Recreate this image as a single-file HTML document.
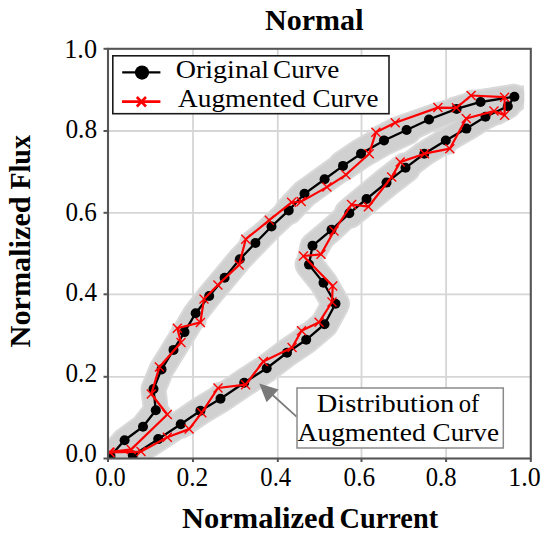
<!DOCTYPE html>
<html><head><meta charset="utf-8"><style>
html,body{margin:0;padding:0;background:#fff;}
svg{display:block;}
text{font-family:"Liberation Serif",serif;fill:#000;white-space:pre;}
</style></head><body>
<svg width="550" height="537" viewBox="0 0 550 537">
<defs><clipPath id="pc"><rect x="108.0" y="48.8" width="422.8" height="409.7"/></clipPath>
<clipPath id="bc"><rect x="108.0" y="48.8" width="416.2" height="409.7"/></clipPath></defs>
<rect width="550" height="537" fill="#fff"/>
<g stroke="#d6d6d6" stroke-width="1.8"><line x1="193.0" y1="48.8" x2="193.0" y2="458.5"/><line x1="108.0" y1="376.8" x2="530.8" y2="376.8"/><line x1="277.8" y1="48.8" x2="277.8" y2="458.5"/><line x1="108.0" y1="294.3" x2="530.8" y2="294.3"/><line x1="361.5" y1="48.8" x2="361.5" y2="458.5"/><line x1="108.0" y1="212.8" x2="530.8" y2="212.8"/><line x1="446.1" y1="48.8" x2="446.1" y2="458.5"/><line x1="108.0" y1="131.0" x2="530.8" y2="131.0"/></g>
<g clip-path="url(#bc)">
<path d="M496,87L512,85.4L524.2,85.4L524.2,108.5L512,118.5L500,125Z" fill="#d9d9d9"/>
<polyline points="110.5,456.0 124.6,440.2 143.0,426.7 155.8,410.3 153.5,389.0 161.5,369.4 173.5,349.9 184.5,332.1 195.7,313.2 209.2,296.0 224.6,277.7 239.8,259.3 255.4,243.0 271.5,226.5 288.7,210.4 304.5,193.8 324.6,179.3 343.0,165.9 361.0,153.7 384.0,140.4 406.6,130.0 429.0,119.5 456.6,108.9 480.6,102.0 514.4,96.7 507.8,106.3 485.5,116.8 466.4,128.6 445.8,140.5 424.3,153.8 405.5,167.8 386.5,182.6 366.5,199.0 349.3,213.3 331.5,229.8 312.5,245.8 309.0,264.6 323.5,282.8 335.5,303.8 324.5,324.2 306.2,339.8 287.0,352.8 266.7,368.2 244.2,382.7 220.5,398.8 200.4,410.8 180.7,424.3 158.2,439.1 132.8,455.5" fill="none" stroke="#d9d9d9" stroke-width="26.0" stroke-linejoin="round" stroke-linecap="round"/>
<polyline points="343.0,165.9 361.0,153.7 384.0,140.4 406.6,130.0" fill="none" stroke="#d9d9d9" stroke-width="31.0" stroke-linejoin="round" stroke-linecap="round"/>
<polyline points="405.5,167.8 386.5,182.6 366.5,199.0 349.3,213.3" fill="none" stroke="#d9d9d9" stroke-width="31.0" stroke-linejoin="round" stroke-linecap="round"/>
<polyline points="309.0,264.6 323.5,282.8 335.5,303.8 324.5,324.2 306.2,339.8 287.0,352.8 266.7,368.2 244.2,382.7 220.5,398.8 200.4,410.8 180.7,424.3" fill="none" stroke="#d9d9d9" stroke-width="29.0" stroke-linejoin="round" stroke-linecap="round"/>
<polyline points="288.7,210.4 304.5,193.8 324.6,179.3 343.0,165.9" fill="none" stroke="#d9d9d9" stroke-width="29.0" stroke-linejoin="round" stroke-linecap="round"/>
<polyline points="109.5,452.0 131.2,449.4 167.3,414.5 151.3,394.0 159.4,367.1 181.0,342.5 177.3,328.3 200.4,322.4 204.0,299.0 217.9,285.0 239.1,264.9 245.8,239.2 269.3,220.2 291.6,202.3 301.2,201.6 326.9,187.1 345.9,174.8 369.2,153.7 375.9,132.3 395.2,122.7 437.9,107.6 456.4,107.8 471.1,95.5 504.6,97.2 504.6,115.2 494.0,111.1 466.2,118.5 449.8,148.7 424.5,153.7 400.2,162.1 391.7,177.0 368.4,206.7 351.6,204.5 334.0,231.0 321.0,254.3 303.4,256.0 332.7,286.1 332.0,302.0 319.1,322.3 301.5,330.7 292.1,347.5 263.3,361.5 245.6,384.7 218.0,388.0 201.8,412.7 189.1,429.1 167.3,437.3 141.0,451.6 110.0,452.5" fill="none" stroke="#d9d9d9" stroke-width="12.0" stroke-linejoin="round" stroke-linecap="round"/>
<path d="M498,89.5L512,88L521.7,88L521.7,107L511,115.5L500,121.5Z" fill="#d0d0d0"/>
<polyline points="110.5,456.0 124.6,440.2 143.0,426.7 155.8,410.3 153.5,389.0 161.5,369.4 173.5,349.9 184.5,332.1 195.7,313.2 209.2,296.0 224.6,277.7 239.8,259.3 255.4,243.0 271.5,226.5 288.7,210.4 304.5,193.8 324.6,179.3 343.0,165.9 361.0,153.7 384.0,140.4 406.6,130.0 429.0,119.5 456.6,108.9 480.6,102.0 514.4,96.7 507.8,106.3 485.5,116.8 466.4,128.6 445.8,140.5 424.3,153.8 405.5,167.8 386.5,182.6 366.5,199.0 349.3,213.3 331.5,229.8 312.5,245.8 309.0,264.6 323.5,282.8 335.5,303.8 324.5,324.2 306.2,339.8 287.0,352.8 266.7,368.2 244.2,382.7 220.5,398.8 200.4,410.8 180.7,424.3 158.2,439.1 132.8,455.5" fill="none" stroke="#d0d0d0" stroke-width="22.0" stroke-linejoin="round" stroke-linecap="round"/>
<polyline points="343.0,165.9 361.0,153.7 384.0,140.4 406.6,130.0" fill="none" stroke="#d0d0d0" stroke-width="27.0" stroke-linejoin="round" stroke-linecap="round"/>
<polyline points="405.5,167.8 386.5,182.6 366.5,199.0 349.3,213.3" fill="none" stroke="#d0d0d0" stroke-width="27.0" stroke-linejoin="round" stroke-linecap="round"/>
<polyline points="309.0,264.6 323.5,282.8 335.5,303.8 324.5,324.2 306.2,339.8 287.0,352.8 266.7,368.2 244.2,382.7 220.5,398.8 200.4,410.8 180.7,424.3" fill="none" stroke="#d0d0d0" stroke-width="25.0" stroke-linejoin="round" stroke-linecap="round"/>
<polyline points="288.7,210.4 304.5,193.8 324.6,179.3 343.0,165.9" fill="none" stroke="#d0d0d0" stroke-width="25.0" stroke-linejoin="round" stroke-linecap="round"/>
<polyline points="109.5,452.0 131.2,449.4 167.3,414.5 151.3,394.0 159.4,367.1 181.0,342.5 177.3,328.3 200.4,322.4 204.0,299.0 217.9,285.0 239.1,264.9 245.8,239.2 269.3,220.2 291.6,202.3 301.2,201.6 326.9,187.1 345.9,174.8 369.2,153.7 375.9,132.3 395.2,122.7 437.9,107.6 456.4,107.8 471.1,95.5 504.6,97.2 504.6,115.2 494.0,111.1 466.2,118.5 449.8,148.7 424.5,153.7 400.2,162.1 391.7,177.0 368.4,206.7 351.6,204.5 334.0,231.0 321.0,254.3 303.4,256.0 332.7,286.1 332.0,302.0 319.1,322.3 301.5,330.7 292.1,347.5 263.3,361.5 245.6,384.7 218.0,388.0 201.8,412.7 189.1,429.1 167.3,437.3 141.0,451.6 110.0,452.5" fill="none" stroke="#d0d0d0" stroke-width="8.0" stroke-linejoin="round" stroke-linecap="round"/>
</g>
<g clip-path="url(#pc)">
<polyline points="110.5,456.0 124.6,440.2 143.0,426.7 155.8,410.3 153.5,389.0 161.5,369.4 173.5,349.9 184.5,332.1 195.7,313.2 209.2,296.0 224.6,277.7 239.8,259.3 255.4,243.0 271.5,226.5 288.7,210.4 304.5,193.8 324.6,179.3 343.0,165.9 361.0,153.7 384.0,140.4 406.6,130.0 429.0,119.5 456.6,108.9 480.6,102.0 514.4,96.7 507.8,106.3 485.5,116.8 466.4,128.6 445.8,140.5 424.3,153.8 405.5,167.8 386.5,182.6 366.5,199.0 349.3,213.3 331.5,229.8 312.5,245.8 309.0,264.6 323.5,282.8 335.5,303.8 324.5,324.2 306.2,339.8 287.0,352.8 266.7,368.2 244.2,382.7 220.5,398.8 200.4,410.8 180.7,424.3 158.2,439.1 132.8,455.5" fill="none" stroke="#000" stroke-width="2.3"/>
<g fill="#000"><circle cx="110.5" cy="456.0" r="5"/><circle cx="124.6" cy="440.2" r="5"/><circle cx="143.0" cy="426.7" r="5"/><circle cx="155.8" cy="410.3" r="5"/><circle cx="153.5" cy="389.0" r="5"/><circle cx="161.5" cy="369.4" r="5"/><circle cx="173.5" cy="349.9" r="5"/><circle cx="184.5" cy="332.1" r="5"/><circle cx="195.7" cy="313.2" r="5"/><circle cx="209.2" cy="296.0" r="5"/><circle cx="224.6" cy="277.7" r="5"/><circle cx="239.8" cy="259.3" r="5"/><circle cx="255.4" cy="243.0" r="5"/><circle cx="271.5" cy="226.5" r="5"/><circle cx="288.7" cy="210.4" r="5"/><circle cx="304.5" cy="193.8" r="5"/><circle cx="324.6" cy="179.3" r="5"/><circle cx="343.0" cy="165.9" r="5"/><circle cx="361.0" cy="153.7" r="5"/><circle cx="384.0" cy="140.4" r="5"/><circle cx="406.6" cy="130.0" r="5"/><circle cx="429.0" cy="119.5" r="5"/><circle cx="456.6" cy="108.9" r="5"/><circle cx="480.6" cy="102.0" r="5"/><circle cx="514.4" cy="96.7" r="5"/><circle cx="507.8" cy="106.3" r="5"/><circle cx="485.5" cy="116.8" r="5"/><circle cx="466.4" cy="128.6" r="5"/><circle cx="445.8" cy="140.5" r="5"/><circle cx="424.3" cy="153.8" r="5"/><circle cx="405.5" cy="167.8" r="5"/><circle cx="386.5" cy="182.6" r="5"/><circle cx="366.5" cy="199.0" r="5"/><circle cx="349.3" cy="213.3" r="5"/><circle cx="331.5" cy="229.8" r="5"/><circle cx="312.5" cy="245.8" r="5"/><circle cx="309.0" cy="264.6" r="5"/><circle cx="323.5" cy="282.8" r="5"/><circle cx="335.5" cy="303.8" r="5"/><circle cx="324.5" cy="324.2" r="5"/><circle cx="306.2" cy="339.8" r="5"/><circle cx="287.0" cy="352.8" r="5"/><circle cx="266.7" cy="368.2" r="5"/><circle cx="244.2" cy="382.7" r="5"/><circle cx="220.5" cy="398.8" r="5"/><circle cx="200.4" cy="410.8" r="5"/><circle cx="180.7" cy="424.3" r="5"/><circle cx="158.2" cy="439.1" r="5"/><circle cx="132.8" cy="455.5" r="5"/></g>
<polyline points="109.5,452.0 131.2,449.4 167.3,414.5 151.3,394.0 159.4,367.1 181.0,342.5 177.3,328.3 200.4,322.4 204.0,299.0 217.9,285.0 239.1,264.9 245.8,239.2 269.3,220.2 291.6,202.3 301.2,201.6 326.9,187.1 345.9,174.8 369.2,153.7 375.9,132.3 395.2,122.7 437.9,107.6 456.4,107.8 471.1,95.5 504.6,97.2 504.6,115.2 494.0,111.1 466.2,118.5 449.8,148.7 424.5,153.7 400.2,162.1 391.7,177.0 368.4,206.7 351.6,204.5 334.0,231.0 321.0,254.3 303.4,256.0 332.7,286.1 332.0,302.0 319.1,322.3 301.5,330.7 292.1,347.5 263.3,361.5 245.6,384.7 218.0,388.0 201.8,412.7 189.1,429.1 167.3,437.3 141.0,451.6 110.0,452.5" fill="none" stroke="#ff0000" stroke-width="2.2" stroke-linejoin="round"/>
<g stroke="#ff0000" stroke-width="1.4" fill="none"><path d="M105.0,447.5L114.0,456.5M105.0,456.5L114.0,447.5"/><path d="M126.7,444.9L135.7,453.9M126.7,453.9L135.7,444.9"/><path d="M162.8,410.0L171.8,419.0M162.8,419.0L171.8,410.0"/><path d="M146.8,389.5L155.8,398.5M146.8,398.5L155.8,389.5"/><path d="M154.9,362.6L163.9,371.6M154.9,371.6L163.9,362.6"/><path d="M176.5,338.0L185.5,347.0M176.5,347.0L185.5,338.0"/><path d="M172.8,323.8L181.8,332.8M172.8,332.8L181.8,323.8"/><path d="M195.9,317.9L204.9,326.9M195.9,326.9L204.9,317.9"/><path d="M199.5,294.5L208.5,303.5M199.5,303.5L208.5,294.5"/><path d="M213.4,280.5L222.4,289.5M213.4,289.5L222.4,280.5"/><path d="M234.6,260.4L243.6,269.4M234.6,269.4L243.6,260.4"/><path d="M241.3,234.7L250.3,243.7M241.3,243.7L250.3,234.7"/><path d="M264.8,215.7L273.8,224.7M264.8,224.7L273.8,215.7"/><path d="M287.1,197.8L296.1,206.8M287.1,206.8L296.1,197.8"/><path d="M296.7,197.1L305.7,206.1M296.7,206.1L305.7,197.1"/><path d="M322.4,182.6L331.4,191.6M322.4,191.6L331.4,182.6"/><path d="M341.4,170.3L350.4,179.3M341.4,179.3L350.4,170.3"/><path d="M364.7,149.2L373.7,158.2M364.7,158.2L373.7,149.2"/><path d="M371.4,127.8L380.4,136.8M371.4,136.8L380.4,127.8"/><path d="M390.7,118.2L399.7,127.2M390.7,127.2L399.7,118.2"/><path d="M433.4,103.1L442.4,112.1M433.4,112.1L442.4,103.1"/><path d="M451.9,103.3L460.9,112.3M451.9,112.3L460.9,103.3"/><path d="M466.6,91.0L475.6,100.0M466.6,100.0L475.6,91.0"/><path d="M500.1,92.7L509.1,101.7M500.1,101.7L509.1,92.7"/><path d="M500.1,110.7L509.1,119.7M500.1,119.7L509.1,110.7"/><path d="M489.5,106.6L498.5,115.6M489.5,115.6L498.5,106.6"/><path d="M461.7,114.0L470.7,123.0M461.7,123.0L470.7,114.0"/><path d="M445.3,144.2L454.3,153.2M445.3,153.2L454.3,144.2"/><path d="M420.0,149.2L429.0,158.2M420.0,158.2L429.0,149.2"/><path d="M395.7,157.6L404.7,166.6M395.7,166.6L404.7,157.6"/><path d="M387.2,172.5L396.2,181.5M387.2,181.5L396.2,172.5"/><path d="M363.9,202.2L372.9,211.2M363.9,211.2L372.9,202.2"/><path d="M347.1,200.0L356.1,209.0M347.1,209.0L356.1,200.0"/><path d="M329.5,226.5L338.5,235.5M329.5,235.5L338.5,226.5"/><path d="M316.5,249.8L325.5,258.8M316.5,258.8L325.5,249.8"/><path d="M298.9,251.5L307.9,260.5M298.9,260.5L307.9,251.5"/><path d="M328.2,281.6L337.2,290.6M328.2,290.6L337.2,281.6"/><path d="M327.5,297.5L336.5,306.5M327.5,306.5L336.5,297.5"/><path d="M314.6,317.8L323.6,326.8M314.6,326.8L323.6,317.8"/><path d="M297.0,326.2L306.0,335.2M297.0,335.2L306.0,326.2"/><path d="M287.6,343.0L296.6,352.0M287.6,352.0L296.6,343.0"/><path d="M258.8,357.0L267.8,366.0M258.8,366.0L267.8,357.0"/><path d="M241.1,380.2L250.1,389.2M241.1,389.2L250.1,380.2"/><path d="M213.5,383.5L222.5,392.5M213.5,392.5L222.5,383.5"/><path d="M197.3,408.2L206.3,417.2M197.3,417.2L206.3,408.2"/><path d="M184.6,424.6L193.6,433.6M184.6,433.6L193.6,424.6"/><path d="M162.8,432.8L171.8,441.8M162.8,441.8L171.8,432.8"/><path d="M136.5,447.1L145.5,456.1M136.5,456.1L145.5,447.1"/><path d="M105.5,448.0L114.5,457.0M105.5,457.0L114.5,448.0"/></g>
</g>
<rect x="108.0" y="48.8" width="422.8" height="409.7" fill="none" stroke="#555" stroke-width="2.1"/>
<g stroke="#555" stroke-width="2"><line x1="103.5" y1="458.5" x2="108.0" y2="458.5"/><line x1="108.0" y1="458.5" x2="108.0" y2="462.0"/><line x1="103.5" y1="376.8" x2="108.0" y2="376.8"/><line x1="193.0" y1="458.5" x2="193.0" y2="462.0"/><line x1="103.5" y1="294.3" x2="108.0" y2="294.3"/><line x1="277.8" y1="458.5" x2="277.8" y2="462.0"/><line x1="103.5" y1="212.8" x2="108.0" y2="212.8"/><line x1="361.5" y1="458.5" x2="361.5" y2="462.0"/><line x1="103.5" y1="131.0" x2="108.0" y2="131.0"/><line x1="446.1" y1="458.5" x2="446.1" y2="462.0"/><line x1="103.5" y1="48.8" x2="108.0" y2="48.8"/><line x1="530.8" y1="458.5" x2="530.8" y2="462.0"/></g>
<!-- legend -->
<rect x="112.8" y="55.8" width="276.2" height="57.9" fill="#fff" stroke="#1a1a1a" stroke-width="1.6"/>
<line x1="122.2" y1="72.3" x2="160.4" y2="72.3" stroke="#000" stroke-width="2.2"/>
<circle cx="142" cy="72.6" r="7.1" fill="#000"/>
<line x1="122" y1="101.7" x2="160.4" y2="101.7" stroke="#ff0000" stroke-width="2.8"/>
<path d="M136.8,97L146,106.5M136.8,106.5L146,97" stroke="#ff0000" stroke-width="2.6"/>
<!-- annotation -->
<line x1="296.5" y1="416.7" x2="271" y2="393.5" stroke="#7a7a7a" stroke-width="1.7"/>
<path d="M259.2,383.6L266.6,402.2L278.6,389.4Z" fill="#7a7a7a"/>
<rect x="297" y="388" width="206.3" height="60" fill="#fff" stroke="#8a8a8a" stroke-width="1.5"/>
<text x="95.30" y="485.60" font-size="26.5" font-weight="normal" textLength="30.41" lengthAdjust="spacingAndGlyphs">0.0</text>
<text x="176.50" y="485.60" font-size="26.5" font-weight="normal" textLength="31.78" lengthAdjust="spacingAndGlyphs">0.2</text>
<text x="260.30" y="485.60" font-size="26.5" font-weight="normal" textLength="30.82" lengthAdjust="spacingAndGlyphs">0.4</text>
<text x="343.60" y="485.60" font-size="26.5" font-weight="normal" textLength="31.62" lengthAdjust="spacingAndGlyphs">0.6</text>
<text x="425.70" y="485.60" font-size="26.5" font-weight="normal" textLength="30.82" lengthAdjust="spacingAndGlyphs">0.8</text>
<text x="508.35" y="485.60" font-size="26.5" font-weight="normal" textLength="32.38" lengthAdjust="spacingAndGlyphs">1.0</text>
<text x="64.22" y="57.90" font-size="26.5" font-weight="normal" textLength="32.80" lengthAdjust="spacingAndGlyphs">1.0</text>
<text x="65.40" y="138.10" font-size="26.5" font-weight="normal" textLength="31.72" lengthAdjust="spacingAndGlyphs">0.8</text>
<text x="65.50" y="220.50" font-size="26.5" font-weight="normal" textLength="31.42" lengthAdjust="spacingAndGlyphs">0.6</text>
<text x="65.60" y="300.90" font-size="26.5" font-weight="normal" textLength="31.32" lengthAdjust="spacingAndGlyphs">0.4</text>
<text x="65.50" y="381.80" font-size="26.5" font-weight="normal" textLength="31.47" lengthAdjust="spacingAndGlyphs">0.2</text>
<text x="65.50" y="461.80" font-size="26.5" font-weight="normal" textLength="31.42" lengthAdjust="spacingAndGlyphs">0.0</text>
<text x="175.70" y="78.00" font-size="25.5" font-weight="normal" textLength="93.48" lengthAdjust="spacingAndGlyphs">Original</text>
<text x="273.04" y="78.00" font-size="25.5" font-weight="normal" textLength="66.31" lengthAdjust="spacingAndGlyphs">Curve</text>
<text x="178.00" y="106.90" font-size="25.5" font-weight="normal" textLength="127.58" lengthAdjust="spacingAndGlyphs">Augmented</text>
<text x="312.54" y="106.90" font-size="25.5" font-weight="normal" textLength="66.01" lengthAdjust="spacingAndGlyphs">Curve</text>
<text x="316.78" y="412.10" font-size="25.5" font-weight="normal" textLength="137.51" lengthAdjust="spacingAndGlyphs">Distribution</text>
<text x="458.73" y="412.10" font-size="25.5" font-weight="normal" textLength="20.54" lengthAdjust="spacingAndGlyphs">of</text>
<text x="297.60" y="441.10" font-size="25.5" font-weight="normal" textLength="128.08" lengthAdjust="spacingAndGlyphs">Augmented</text>
<text x="432.64" y="441.10" font-size="25.5" font-weight="normal" textLength="66.31" lengthAdjust="spacingAndGlyphs">Curve</text>
<text x="265.10" y="29.60" font-size="28.8" font-weight="bold" textLength="98.39" lengthAdjust="spacingAndGlyphs">Normal</text>
<text x="182.00" y="527.80" font-size="28.8" font-weight="bold" textLength="152.45" lengthAdjust="spacingAndGlyphs">Normalized</text>
<text x="339.52" y="527.80" font-size="28.8" font-weight="bold" textLength="98.55" lengthAdjust="spacingAndGlyphs">Current</text>
<text transform="translate(30.1,347.40) rotate(-90)" x="0.00" y="0" font-size="28.8" font-weight="bold" textLength="151.05" lengthAdjust="spacingAndGlyphs">Normalized</text>
<text transform="translate(30.1,189.50) rotate(-90)" x="0.00" y="0" font-size="28.8" font-weight="bold" textLength="54.42" lengthAdjust="spacingAndGlyphs">Flux</text>
</svg>
</body></html>
